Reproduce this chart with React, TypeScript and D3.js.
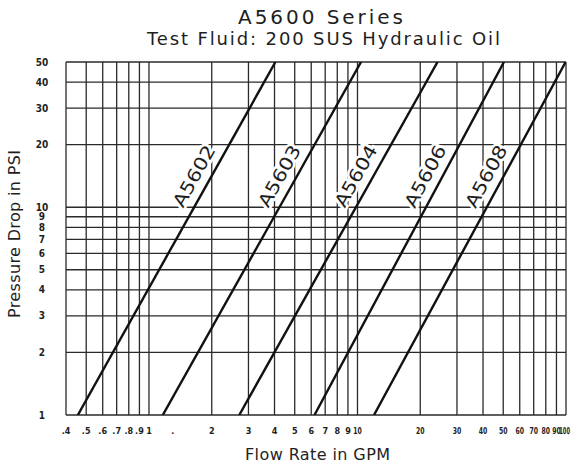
import React from 'react';
import * as d3 from 'd3';

const seriesNames = ['A5602', 'A5603', 'A5604', 'A5606', 'A5608'];
const flowAt1Psi = [0.456, 1.165, 2.71, 6.22, 12.0];
const flowAt50Psi = [4.04, 10.4, 24.2, 50.4, 99.6];
const psiEnds = [1, 50];
const labelPsi = 13;

const xGrid = [0.4, 0.5, 0.6, 0.7, 0.8, 0.9, 1, 2, 3, 4, 5, 6, 7, 8, 9, 10, 20, 30, 40, 50, 60, 70, 80, 90, 100];
const xTickLabels = ['.4', '.5', '.6', '.7', '.8', '.9', '1', '2', '3', '4', '5', '6', '7', '8', '9', '10', '20', '30', '40', '50', '60', '70', '80', '90', '100'];
const yGrid = [1, 2, 3, 4, 5, 6, 7, 8, 9, 10, 20, 30, 40, 50];
const yTickLabels = ['1', '2', '3', '4', '5', '6', '7', '8', '9', '10', '20', '30', '40', '50'];

const W = 572;
const H = 463;

const App = () => {
  const x = d3.scaleLog().domain([0.4, 100]).range([66, 566]);
  const y = d3.scaleLog().domain([1, 50]).range([415, 62]);

  const line = d3
    .line<number[]>()
    .x((d) => x(d[0]))
    .y((d) => y(d[1]));

  const ink = '#1e1e1e';
  const font = '"DejaVu Sans", sans-serif';

  // the scan squeezes the wider tick labels
  const squeeze = (s: string) => (s.length >= 3 ? 0.6 : s.length === 2 && !s.startsWith('.') ? 0.72 : 1);

  return (
    <svg
      width={W}
      height={H}
      style={{ position: 'absolute', left: 0, top: 0, background: '#fff' }}
    >
      <text x={238} y={24} fontFamily={font} fontSize={20} fill={ink} textLength={165} lengthAdjust='spacing'>
        A5600 Series
      </text>
      <text x={147} y={45} fontFamily={font} fontSize={18} fill={ink} textLength={353} lengthAdjust='spacing'>
        Test Fluid: 200 SUS Hydraulic Oil
      </text>

      {/* grid */}
      <g stroke='#2a2a2a' strokeWidth={1.3}>
        {xGrid.map((v) => (
          <line key={'x' + v} x1={x(v)} x2={x(v)} y1={y(50)} y2={y(1)} />
        ))}
        {yGrid.map((v) => (
          <line key={'y' + v} x1={x(0.4)} x2={x(100)} y1={y(v)} y2={y(v)} />
        ))}
      </g>

      {/* tick labels */}
      <g fontFamily='"DejaVu Sans Condensed", "DejaVu Sans", sans-serif' fontWeight='bold' fontSize={9} fill={ink} textAnchor='middle'>
        {xGrid.map((v, i) => {
          const last = i === xGrid.length - 1;
          const lbl = xTickLabels[i];
          const k = squeeze(lbl);
          return (
            <text
              key={'xt' + v}
              transform={`translate(${last ? 570 : x(v)},434) scale(${k},1)`}
              fontSize={k < 1 ? 9.5 : 9}
              textAnchor={last ? 'end' : 'middle'}
            >
              {lbl}
            </text>
          );
        })}
        <text x={x(1.3)} y={434}>.</text>
        {yGrid.map((v, i) => (
          <text key={'yt' + v} x={42} y={y(v) + 3.5} fontSize={10}>
            {yTickLabels[i]}
          </text>
        ))}
      </g>

      {/* flow curves */}
      <defs>
        <clipPath id='plot'>
          <rect x={x(0.4)} y={y(50)} width={x(100) - x(0.4)} height={y(1) - y(50)} />
        </clipPath>
      </defs>
      <g clipPath='url(#plot)'>
        {seriesNames.map((s, i) => {
          const pts = [
            [flowAt1Psi[i], psiEnds[0]],
            [flowAt50Psi[i], psiEnds[1]],
          ];
          return <path key={s} d={line(pts) || ''} fill='none' stroke='#111' strokeWidth={2.4} />;
        })}
      </g>

      {/* curve labels, rotated along each line */}
      {seriesNames.map((s, i) => {
        const x0 = x(flowAt1Psi[i]);
        const y0 = y(psiEnds[0]);
        const x1 = x(flowAt50Psi[i]);
        const y1 = y(psiEnds[1]);
        const ang = (Math.atan2(y1 - y0, x1 - x0) * 180) / Math.PI;
        // flow at the label pressure along the straight log-log line
        const t = Math.log(labelPsi / psiEnds[0]) / Math.log(psiEnds[1] / psiEnds[0]);
        const f = Math.exp(Math.log(flowAt1Psi[i]) + t * (Math.log(flowAt50Psi[i]) - Math.log(flowAt1Psi[i])));
        return (
          <text
            key={'l' + s}
            transform={`translate(${x(f)},${y(labelPsi)}) rotate(${ang})`}
            y={-9}
            textAnchor='middle'
            fontFamily={font}
            fontSize={18}
            fill={ink}
            stroke='#fff'
            strokeWidth={5}
            paintOrder='stroke'
            textLength={68}
            lengthAdjust='spacingAndGlyphs'
          >
            {s}
          </text>
        );
      })}

      {/* axis titles */}
      <text x={245} y={460} fontFamily={font} fontSize={16} fill={ink} textLength={145} lengthAdjust='spacing'>
        Flow Rate in GPM
      </text>
      <text
        transform={`translate(20,234) rotate(-90)`}
        textAnchor='middle'
        fontFamily={font}
        fontSize={16}
        fill={ink}
        textLength={168}
        lengthAdjust='spacing'
      >
        Pressure Drop in PSI
      </text>
    </svg>
  );
};

export default App;
